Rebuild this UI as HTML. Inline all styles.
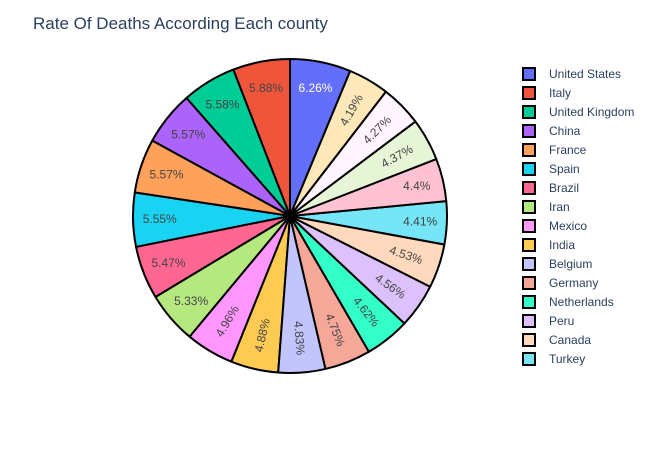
<!DOCTYPE html>
<html><head><meta charset="utf-8"><style>
body{margin:0;background:#fff;}
svg text{font-family:"Liberation Sans","DejaVu Sans",sans-serif;}
</style></head><body>
<svg id="chart" width="663" height="453">
<text x="33" y="29" font-size="17" fill="#2a3f5f">Rate Of Deaths According Each county</text>
<g id="slices"></g><g id="labels"></g><g id="legend"></g>
</svg>
<script>
const countries=["United States","Italy","United Kingdom","China","France","Spain","Brazil","Iran","Mexico","India","Belgium","Germany","Netherlands","Peru","Canada","Turkey","Country 17","Country 18","Country 19","Country 20"];
const values=[6.26,5.88,5.58,5.57,5.57,5.55,5.47,5.33,4.96,4.88,4.83,4.75,4.62,4.56,4.53,4.41,4.4,4.37,4.27,4.19];
const colors=["#636efa","#ef553b","#00cc96","#ab63fa","#ffa15a","#19d3f3","#ff6692","#b6e880","#ff97ff","#fecb52","#c1c5fc","#f5a898","#33ffc8","#ddc1fc","#ffd9bd","#75e5f7","#ffc2d3","#e5f5d5","#fff4ff","#fee8b9"];
const NS="http://www.w3.org/2000/svg";
const cx=290,cy=216,R=157;
const total=values.reduce((a,b)=>a+b,0);
const startAng=values[0]/total*360;
function pt(deg,r){const a=deg*Math.PI/180;return [cx+r*Math.sin(a),cy-r*Math.cos(a)];}
const gs=document.getElementById('slices'),gl=document.getElementById('labels'),gg=document.getElementById('legend');
let cum=0;
values.forEach((v,i)=>{
  const a1=startAng-cum/total*360; cum+=v; const a0=startAng-cum/total*360;
  const p0=pt(a0,R),p1=pt(a1,R);
  const large=(a1-a0)>180?1:0;
  const p=document.createElementNS(NS,'path');
  p.setAttribute('d',`M${cx},${cy}L${p0[0]},${p0[1]}A${R},${R} 0 ${large} 1 ${p1[0]},${p1[1]}Z`);
  p.setAttribute('fill',colors[i]);p.setAttribute('stroke','#000');p.setAttribute('stroke-width','2');p.setAttribute('stroke-linejoin','round');
  
  
  gs.appendChild(p);
  let mid=((a0+a1)/2+360)%360;
  const s=Math.abs(Math.sin(mid*Math.PI/180));
  const horiz=v>=5.3||s>0.96;
  const t=document.createElementNS(NS,'text');
  const pos=pt(mid,horiz?R*0.83:R*0.78);
  t.setAttribute('x',pos[0]);t.setAttribute('y',pos[1]+4);
  t.setAttribute('text-anchor','middle');t.setAttribute('font-size','12');
  t.setAttribute('fill',i==0?'#fff':'#444');
  if(!horiz){let rot=mid-90;if(rot>90)rot-=180;t.setAttribute('transform',`rotate(${rot} ${pos[0]} ${pos[1]})`);}
  t.textContent=(Math.round(v/total*10000)/100)+'%';
  
  
  gl.appendChild(t);
  const y=74+i*19;
  if(y<=372){
    const r=document.createElementNS(NS,'rect');
    const h=Math.min(12,372-y+6);
    r.setAttribute('x',523);r.setAttribute('y',y-6);r.setAttribute('width',12);r.setAttribute('height',h);
    r.setAttribute('fill',colors[i]);r.setAttribute('stroke','#000');r.setAttribute('stroke-width','2');
    
    
    gg.appendChild(r);
    if(y<372){
      const lt=document.createElementNS(NS,'text');
      lt.setAttribute('x',549);lt.setAttribute('y',y+4);lt.setAttribute('font-size','12');lt.setAttribute('fill','#2a3f5f');
      lt.textContent=countries[i];
      
      
      gg.appendChild(lt);
    }
  }
});
</script>
</body></html>
